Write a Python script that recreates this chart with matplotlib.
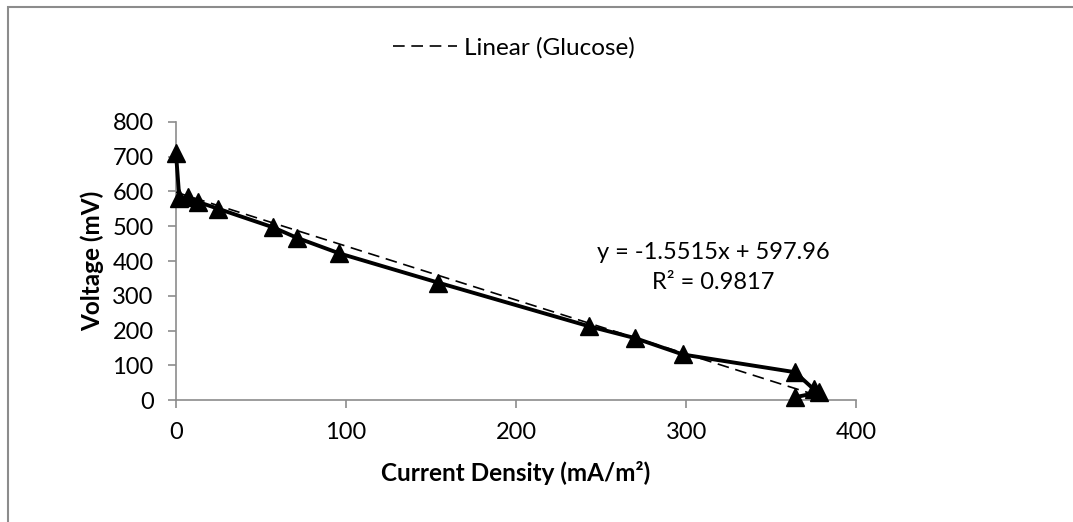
import matplotlib
matplotlib.use('Agg')
import matplotlib.pyplot as plt
from matplotlib.lines import Line2D
from matplotlib.patches import Rectangle

# polarisation data
current_density = [0, 2, 7, 13, 25, 57, 71, 96, 154, 243, 270, 298, 364, 375, 378, 364]
voltage = [710, 580, 585, 570, 550, 497, 467, 422, 338, 212, 178, 131, 80, 31, 22, 8]

slope = -1.5515
intercept = 597.96
r_squared = 0.9817

x_ticks = [0, 100, 200, 300, 400]
y_ticks = [0, 100, 200, 300, 400, 500, 600, 700, 800]

plt.rcParams['font.family'] = ['Lato', 'DejaVu Sans']
fs = 17

fig = plt.figure(figsize=(10.73, 5.22), dpi=100)
ax = fig.add_axes([0.164, 0.2337, 0.634, 0.5326])

# chart area border
fig.patches.append(Rectangle((8 / 1073, -0.1), 1.2, 1 - 7 / 522 + 0.1, transform=fig.transFigure,
                             fill=False, edgecolor='#8c8c8c', linewidth=1.5))

ax.plot(current_density, voltage, color='black', linewidth=2.8, marker='^',
        markersize=13.5, clip_on=False, zorder=3)

x_fit = [0, max(current_density)]
y_fit = [intercept + slope * x for x in x_fit]
ax.plot(x_fit, y_fit, color='black', linewidth=1.2, linestyle=(0, (7, 4)), zorder=4)

ax.set_xlim(0, 400)
ax.set_ylim(0, 800)
ax.set_xticks(x_ticks)
ax.set_yticks(y_ticks)

for side in ['top', 'right']:
    ax.spines[side].set_visible(False)
for side in ['left', 'bottom']:
    ax.spines[side].set_color('#8c8c8c')
    ax.spines[side].set_linewidth(1.2)
ax.tick_params(direction='out', length=6, width=1.2, color='#8c8c8c',
               labelsize=fs, pad=10)

ax.set_xlabel('Current Density (mA/m²)', fontsize=17.5, fontweight='bold', labelpad=13)
ax.set_ylabel('Voltage (mV)', fontsize=17.5, fontweight='bold', labelpad=6)

ax.text(316, 424, f'y = {slope}x + {intercept}', fontsize=fs, ha='center', va='center')
ax.text(316, 337, f'R² = {r_squared}', fontsize=fs, ha='center', va='center')

handle = Line2D([0], [0], color='black', linewidth=1.2, linestyle=(0, (7, 4)))
fig.legend([handle], ['Linear (Glucose)'], loc='center', bbox_to_anchor=(0.479, 0.908),
           frameon=False, fontsize=17.5, handlelength=2.6, handletextpad=0.3)

fig.savefig('out.png', dpi=100)
plt.close(fig)
